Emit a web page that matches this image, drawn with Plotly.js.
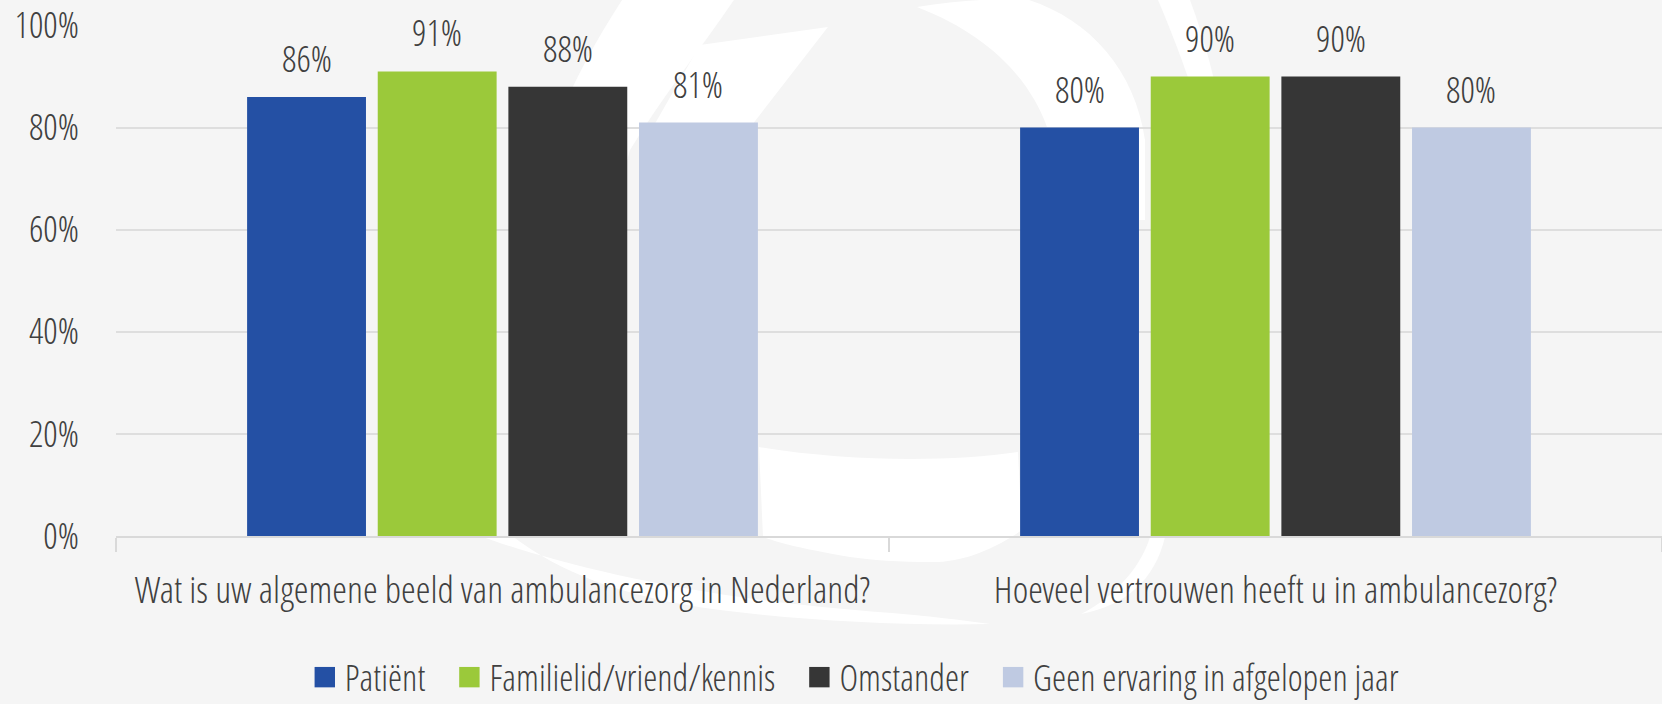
<!DOCTYPE html>
<html><head><meta charset="utf-8">
<script src="https://cdn.plot.ly/plotly-3.0.1.min.js"></script>
<style>
html,body{margin:0;padding:0;background:#f5f5f5;}
#chart{width:1662px;height:704px;}
</style></head><body><div id="chart"></div>
<script>
const categories = ["Wat is uw algemene beeld van ambulancezorg in Nederland?", "Hoeveel vertrouwen heeft u in ambulancezorg?"];
const seriesNames = ["Patiënt", "Familielid/vriend/kennis", "Omstander", "Geen ervaring in afgelopen jaar"];
const patient = [0.86, 0.80];
const familie = [0.91, 0.90];
const omstander = [0.88, 0.90];
const geenErvaring = [0.81, 0.80];
const yTickVals = [0, 0.2, 0.4, 0.6, 0.8, 1.0];
const yTickText = ["0%", "20%", "40%", "60%", "80%", "100%"];

const seriesValues = [patient, familie, omstander, geenErvaring];
const colors = ["#2450a4", "#9bc93a", "#363636", "#bfcae2"];
const FONT = "'Open Sans Condensed Light', 'Open Sans', sans-serif";
const TXT = "#404040";

const W = 1662, H = 704;
const margin = {l: 116, r: 0, t: 25, b: 168};
const bargap = 0.324, bargroupgap = 0.09;

const traces = seriesValues.map((vals, i) => ({
  type: 'bar', name: seriesNames[i], x: categories, y: vals,
  marker: {color: colors[i], line: {width: 0}},
  hoverinfo: 'skip'
}));

const plotW = W - margin.l - margin.r;
const plotH = H - margin.t - margin.b;
const catPx = plotW / categories.length;
const slotPx = catPx * (1 - bargap) / seriesValues.length;
const annotations = [];
seriesValues.forEach((vals, i) => {
  vals.forEach((v, j) => {
    annotations.push({
      x: categories[j], y: v, xref: 'x', yref: 'y',
      xshift: (i - (seriesValues.length - 1) / 2) * slotPx,
      yshift: 12, yanchor: 'bottom', showarrow: false,
      text: Math.round(v * 100) + '%',
      font: {family: FONT, size: 36, color: TXT, weight: 300}
    });
  });
});

// faint background watermark (decorative white swooshes), given in page pixels
const watermark = [
  "M 622,0 L 734,0 C 700,50 660,100 630,150 L 600,260 L 520,260 C 530,170 570,80 622,0 Z",
  "M 700,45 L 828,27 L 752,125 L 640,150 Z",
  "M 917,7 C 960,0 1000,-2 1029,0 C 1090,20 1135,70 1145,140 L 1145,220 L 1050,220 L 1047,127 C 1030,80 990,35 917,7 Z",
  "M 1158,0 L 1190,0 C 1205,40 1215,80 1225,130 L 1205,130 C 1190,80 1175,40 1158,0 Z",
  "M 759,447 C 850,462 950,462 1018,452 L 1022,530 C 990,552 960,562 933,562 C 900,562 870,560 850,557 C 810,550 785,545 763,537 Z",
  "M 480,536 C 560,565 700,600 892,613 C 930,616 960,620 990,624 C 900,626 800,620 720,610 C 620,597 560,572 512,536 Z",
  "M 1081,614 C 1110,600 1140,570 1150,537 L 1165,537 C 1155,580 1125,606 1081,614 Z"
];
function toPaper(d) {
  return d.replace(/(-?\d+(?:\.\d+)?),(-?\d+(?:\.\d+)?)/g, (m, x, y) =>
    ((+x - margin.l) / plotW).toFixed(4) + ',' + ((H - margin.b - +y) / plotH).toFixed(4));
}
const shapes = watermark.map(d => ({
  type: 'path', xref: 'paper', yref: 'paper', path: toPaper(d),
  fillcolor: '#ffffff', line: {width: 0}, layer: 'below'
}));

const layout = {
  width: W, height: H, margin: margin,
  paper_bgcolor: '#f5f5f5', plot_bgcolor: 'rgba(0,0,0,0)',
  barmode: 'group', bargap: bargap, bargroupgap: bargroupgap,
  font: {family: FONT, color: TXT, weight: 300},
  showlegend: true,
  legend: {orientation: 'h', xref: 'paper', yref: 'container', x: 0.48, xanchor: 'center', y: 0.038, yanchor: 'middle',
           font: {family: FONT, size: 36, color: TXT, weight: 300}, bgcolor: 'rgba(0,0,0,0)'},
  xaxis: {type: 'category', showgrid: false, showline: true, linecolor: '#d9d9d9', linewidth: 2,
          ticks: 'outside', tickson: 'boundaries', ticklen: 14, tickwidth: 2, tickcolor: '#d9d9d9', tickangle: 0,
          ticklabelstandoff: 20, tickfont: {family: FONT, size: 37.5, color: TXT, weight: 300}, fixedrange: true},
  yaxis: {range: [0, 1.001], tickvals: yTickVals, ticktext: yTickText, showgrid: true, gridcolor: '#dedede', gridwidth: 2,
          zeroline: false, showline: false, ticks: '', ticklabelstandoff: 36,
          tickfont: {family: FONT, size: 36, color: TXT, weight: 300}, fixedrange: true},
  annotations: annotations,
  shapes: shapes
};

Plotly.newPlot('chart', traces, layout, {displayModeBar: false, staticPlot: true}).then(gd => {
  // cosmetic legend tweaks: larger colour squares, wider spacing between entries, recentred
  const lg = gd.querySelector('.legend');
  if (!lg) return;
  lg.querySelectorAll('.legendpoints path').forEach(p => {
    const t = p.getAttribute('transform') || '';
    p.setAttribute('transform', t + ' scale(1.7)');
  });
  lg.querySelectorAll('[clip-path]').forEach(el => el.removeAttribute('clip-path'));
  const items = Array.from(lg.querySelectorAll('g.traces'));
  const extra = 19;
  items.forEach((g, i) => {
    const t = g.getAttribute('transform') || '';
    g.setAttribute('transform', t + ' translate(' + (i * extra) + ',0)');
  });
  if (items.length) {
    const r0 = items[0].getBoundingClientRect();
    const r1 = items[items.length - 1].getBoundingClientRect();
    const dx = 853 - (r0.left + r1.right) / 2;
    lg.setAttribute('transform', (lg.getAttribute('transform') || '') + ' translate(' + dx.toFixed(1) + ',0)');
  }
  const bg = lg.querySelector('rect.bg');
  if (bg) bg.setAttribute('width', String(Math.max(+bg.getAttribute('width') || 0, 0) + 3 * extra));
});
</script></body></html>
